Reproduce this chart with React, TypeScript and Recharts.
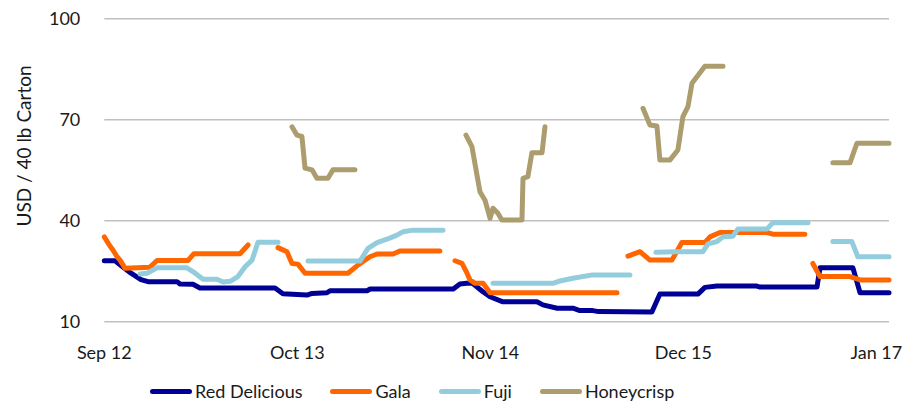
import { CartesianGrid, Legend, Line, LineChart, XAxis, YAxis } from "recharts";

type Segment = [number, number][];

// x = months since Sep 2012, y = USD per 40 lb carton
const tickMonths = [0, 13, 26, 39, 52];
const tickLabels = ["Sep 12", "Oct 13", "Nov 14", "Dec 15", "Jan 17"];
const priceTicks = [10, 40, 70, 100];

const redDelicious: Segment[] = [[
  [0, 28.1], [0.72, 28.1], [1.19, 26.5], [1.8, 24.4], [2.47, 22.5], [2.94, 21.9],
  [4.9, 21.9], [5.1, 21.2], [5.97, 21.1], [6.44, 20.0], [11.5, 20.0], [12.03, 18.3],
  [13.65, 17.9], [13.99, 18.4], [15.0, 18.6], [15.2, 19.2], [17.7, 19.2], [17.9, 19.7],
  [23.5, 19.7], [23.95, 21.2], [24.4, 21.4], [24.8, 21.4], [25.5, 18.9], [25.98, 17.4],
  [26.85, 15.9], [29.14, 15.9], [29.54, 15.0], [30.5, 14.0], [31.56, 14.0], [32.03, 13.3],
  [32.9, 13.3], [33.3, 13.0], [36.88, 12.9], [37.42, 18.2], [39.98, 18.2], [40.45, 20.2],
  [41.26, 20.6], [43.95, 20.6], [44.16, 20.3], [48.0, 20.3], [48.2, 26.0], [50.42, 26.0],
  [50.9, 18.6], [52.85, 18.6],
]];

const gala: Segment[] = [
  [[0, 35.2], [0.38, 32.5], [0.58, 31.3], [0.86, 29.3], [1.06, 28.3], [1.39, 25.9],
   [3.08, 26.2], [3.55, 28.2], [5.64, 28.2], [6.04, 30.2], [9.14, 30.2], [9.68, 32.8]],
  [[11.7, 32.0], [12.3, 30.8], [12.64, 27.3], [13.04, 27.1], [13.52, 24.4], [16.41, 24.4],
   [17.02, 26.6], [17.89, 29.3], [18.37, 30.1], [19.45, 30.1], [19.91, 31.0], [22.6, 31.0]],
  [[23.62, 28.1], [24.09, 27.3], [24.43, 24.4], [24.63, 22.4], [24.97, 21.4], [25.51, 21.4],
   [25.98, 18.6], [34.53, 18.6]],
  [[35.27, 29.5], [36.08, 30.8], [36.75, 28.3], [38.23, 28.3], [38.9, 33.5], [40.45, 33.5],
   [40.79, 35.2], [41.46, 36.5], [44.62, 36.5], [45.03, 36.0], [47.18, 36.0]],
  [[47.72, 27.3], [48.2, 23.4], [50.22, 23.4], [50.9, 22.4], [52.85, 22.4]],
];

const fuji: Segment[] = [
  [[2.41, 24.2], [2.88, 24.4], [3.55, 26.0], [5.57, 26.0], [5.97, 24.9], [6.65, 22.6],
   [7.59, 22.6], [8.0, 21.8], [8.47, 22.0], [9.0, 23.4], [9.48, 26.3], [9.95, 28.3],
   [10.35, 33.6], [11.7, 33.6]],
  [[13.72, 28.0], [17.22, 28.0], [17.76, 31.8], [18.37, 33.5], [19.04, 34.5], [19.71, 35.7],
   [20.11, 36.7], [20.79, 37.2], [22.81, 37.2]],
  [[26.18, 21.4], [30.22, 21.4], [30.69, 22.1], [31.56, 22.9], [32.9, 23.9], [35.4, 23.9]],
  [[37.15, 30.6], [38.57, 30.8], [40.32, 30.8], [40.66, 33.1], [41.26, 33.8], [41.67, 35.2],
   [42.34, 35.4], [42.67, 37.5], [44.62, 37.5], [45.03, 39.4], [47.39, 39.4]],
  [[49.07, 33.8], [50.35, 33.8], [50.75, 29.3], [52.85, 29.3]],
];

const honeycrisp: Segment[] = [
  [[12.64, 67.9], [12.98, 65.4], [13.31, 65.0], [13.52, 55.6], [13.99, 55.1], [14.32, 52.6],
   [15.06, 52.6], [15.4, 55.1], [16.88, 55.1]],
  [[24.36, 65.4], [24.76, 62.0], [25.3, 48.6], [25.64, 46.1], [25.98, 40.7], [26.18, 43.7],
   [26.51, 42.2], [26.78, 40.2], [28.13, 40.2], [28.2, 52.6], [28.53, 53.1], [28.8, 60.2],
   [29.48, 60.2], [29.68, 67.9]],
  [[36.28, 73.4], [36.75, 68.4], [37.22, 68.1], [37.42, 58.0], [38.09, 58.0], [38.63, 61.0],
   [38.97, 70.9], [39.31, 73.9], [39.58, 80.8], [40.45, 85.9], [41.67, 85.9]],
  [[49.07, 57.2], [50.22, 57.2], [50.69, 63.0], [52.85, 63.0]],
];

const series = [
  { name: "Red Delicious", color: "#000096", segments: redDelicious },
  { name: "Gala", color: "#FF6600", segments: gala },
  { name: "Fuji", color: "#93CDDD", segments: fuji },
  { name: "Honeycrisp", color: "#AC9D6E", segments: honeycrisp },
];

// null rows break the line between seasons
function toRows(segments: Segment[]) {
  const rows: { m: number; v: number | null }[] = [];
  segments.forEach((seg, i) => {
    if (i > 0) rows.push({ m: seg[0][0], v: null });
    seg.forEach(([m, v]) => rows.push({ m, v }));
  });
  return rows;
}

const font = "Lato, 'Noto Sans', sans-serif";
const seriesOrder = series.map((s) => s.name);

function LegendRow({ payload }: any) {
  const items = [...(payload ?? [])].sort((a: any, b: any) => seriesOrder.indexOf(a.value) - seriesOrder.indexOf(b.value));
  return (
    <div style={{ display: "flex", alignItems: "center", gap: 28, height: 26, fontFamily: font, fontSize: 18, color: "#1a1a1a" }}>
      {items.map((p: any) => (
        <div key={p.value} style={{ display: "flex", alignItems: "center" }}>
          <span style={{ display: "inline-block", width: 42, height: 5, borderRadius: 3, background: p.color, marginRight: 3 }} />
          <span>{p.value}</span>
        </div>
      ))}
    </div>
  );
}

function AxisTitle() {
  return (
    <text x={23} y={146} transform="rotate(-90, 23, 146)" textAnchor="middle" dominantBaseline="central"
      fontFamily={font} fontSize={19} fill="#1a1a1a">
      USD / 40 lb Carton
    </text>
  );
}

export default function App() {
  return (
    <div style={{ position: "absolute", left: 0, top: 0 }}>
      <LineChart width={907} height={404} margin={{ top: 18.7, right: 18, bottom: 0, left: 0.3 }}>
        <CartesianGrid vertical={false} stroke="#C0C0C0" strokeWidth={1.5} />
        <XAxis
          dataKey="m"
          type="number"
          domain={[0, 52.85]}
          ticks={tickMonths}
          interval={0}
          tickFormatter={(m) => tickLabels[tickMonths.indexOf(m)] ?? ""}
          axisLine={false}
          tickLine={false}
          tickSize={0}
          tickMargin={25}
          height={56.3}
          tick={{ fontFamily: font, fontSize: 18, fill: "#1a1a1a" }}
        />
        <YAxis
          type="number"
          domain={[10, 100]}
          ticks={priceTicks}
          width={104}
          axisLine={false}
          tickLine={false}
          tickSize={0}
          tickMargin={24}
          tick={{ fontFamily: font, fontSize: 18, fill: "#1a1a1a" }}
          label={<AxisTitle />}
        />
        <Legend verticalAlign="bottom" content={<LegendRow />} wrapperStyle={{ left: 150, width: "auto" }} />
        {series.map((s) => (
          <Line
            key={s.name}
            name={s.name}
            data={toRows(s.segments)}
            dataKey="v"
            type="linear"
            stroke={s.color}
            strokeWidth={5}
            strokeLinecap="round"
            strokeLinejoin="round"
            dot={false}
            activeDot={false}
            connectNulls={false}
            isAnimationActive={false}
          />
        ))}
      </LineChart>
    </div>
  );
}
